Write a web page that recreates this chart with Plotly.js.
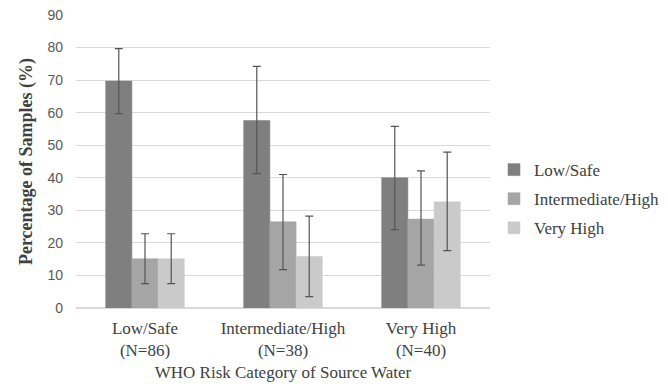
<!DOCTYPE html>
<html>
<head>
<meta charset="utf-8">
<script src="https://cdn.plot.ly/plotly-3.0.1.min.js"></script>
<style>
html,body{margin:0;padding:0;background:#fff;}
</style>
</head>
<body>
<div id="chart" style="width:668px;height:384px;"></div>
<script>
var categories = ["Low/Safe<br>(N=86)", "Intermediate/High<br>(N=38)", "Very High<br>(N=40)"];
var seriesNames = ["Low/Safe", "Intermediate/High", "Very High"];
var lowSafe = [69.7, 57.6, 40.0];
var lowSafeLo = [59.7, 41.3, 24.1];
var lowSafeHi = [79.7, 74.2, 55.8];
var interHigh = [15.1, 26.5, 27.3];
var interHighLo = [7.5, 11.8, 13.2];
var interHighHi = [22.8, 41.0, 42.1];
var veryHigh = [15.1, 15.8, 32.6];
var veryHighLo = [7.5, 3.5, 17.6];
var veryHighHi = [22.8, 28.2, 47.9];
var colors = ["#7f7f7f", "#a5a5a5", "#cacaca"];

function mk(name, vals, lo, hi, color) {
  return {
    type: "bar", name: name, legendgroup: name, x: categories, y: vals,
    marker: {color: color, line: {color: color, width: 0.5}},
    error_y: {type: "data", symmetric: false,
      array: vals.map(function(v, i){ return hi[i] - v; }),
      arrayminus: vals.map(function(v, i){ return v - lo[i]; }),
      color: "#555555", thickness: 1.2, width: 4}
  };
}
var data = [
  mk(seriesNames[0], lowSafe, lowSafeLo, lowSafeHi, colors[0]),
  mk(seriesNames[1], interHigh, interHighLo, interHighHi, colors[1]),
  mk(seriesNames[2], veryHigh, veryHighLo, veryHighHi, colors[2])
];
var layout = {
  width: 668, height: 384,
  margin: {l: 76, r: 178, t: 15, b: 76},
  paper_bgcolor: "#fff", plot_bgcolor: "#fff",
  barmode: "group", bargap: 0.43, bargroupgap: 0,
  font: {family: "Liberation Serif, serif", color: "#333333"},
  xaxis: {
    tickfont: {family: "Liberation Serif, serif", size: 17, color: "#404040"},
    showgrid: false, showline: false, ticks: "", ticklabelstandoff: 8,
    automargin: false,
    title: {text: "WHO Risk Category of Source Water", font: {family: "Liberation Serif, serif", size: 17, color: "#404040"}, standoff: 7}
  },
  yaxis: {
    range: [0, 90], dtick: 10, tick0: 0,
    tickfont: {family: "Liberation Sans, sans-serif", size: 14, color: "#595959"},
    gridcolor: "#d9d9d9", gridwidth: 1.2, zeroline: true, zerolinecolor: "#d9d9d9", zerolinewidth: 1.2,
    showline: false, ticks: "", ticklabelstandoff: 12, automargin: false,
    title: {text: "<b>Percentage of Samples (%)</b>", font: {family: "Liberation Serif, serif", size: 18, color: "#404040"}, standoff: 10}
  },
  legend: {
    xref: "container", yref: "container",
    x: 0.7395, xanchor: "left", y: 0.604, yanchor: "top",
    font: {family: "Liberation Serif, serif", size: 17, color: "#404040"},
    itemwidth: 30, tracegroupgap: 4
  },
  showlegend: true
};
Plotly.newPlot("chart", data, layout, {displayModeBar: false, staticPlot: true});
</script>
</body>
</html>
